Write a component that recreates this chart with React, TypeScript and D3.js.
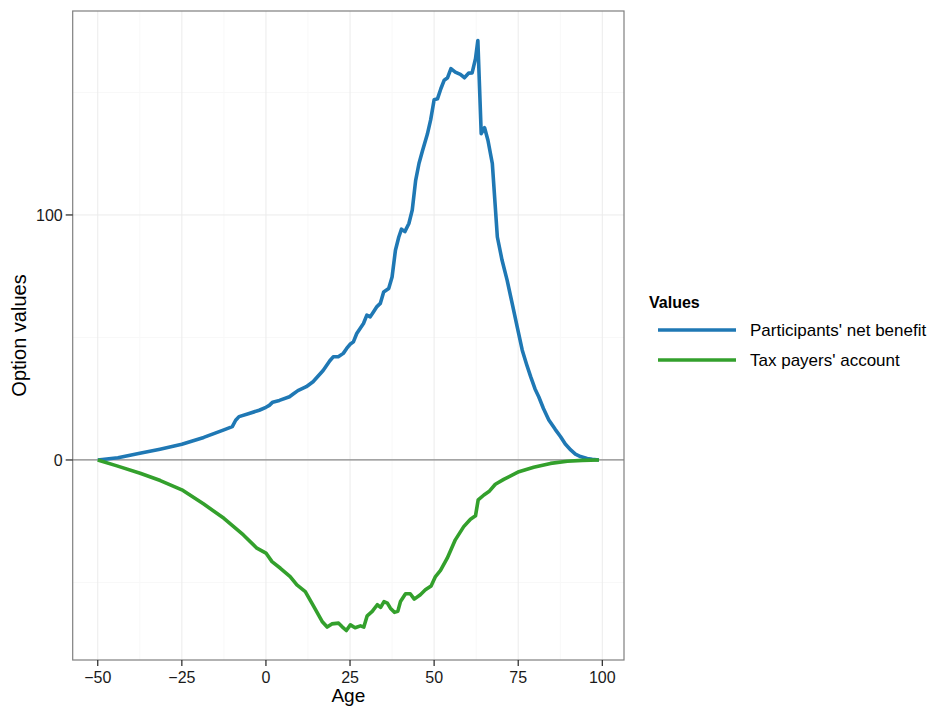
import * as d3 from 'd3';

const ages = {
  benefit: [-50, -44, -37.5, -31.5, -25, -18.5, -12.5, -10, -9, -8, -5, -2, 0, 1, 2, 4, 7, 8, 9.5, 12, 14, 17, 19, 20, 21.5, 23, 24, 25, 26, 27, 29, 30, 31, 32, 33, 34, 35, 36.5, 37.5, 38.5, 39.5, 40.3, 41.3, 42.5, 43.5, 44.5, 45.5, 46.5, 48, 49, 50, 51, 52, 53, 54, 55, 56.3, 57.8, 59, 60.3, 61.3, 62.3, 63, 64, 65, 66, 67.3, 68.8, 70.2, 71.7, 73.2, 74.7, 76.2, 77.5, 78.7, 80, 81.1, 82.5, 84.1, 86, 87.6, 89, 90.6, 92, 93.5, 95.5, 97, 99],
  tax: [-50, -44.3, -37.4, -31.4, -25, -18.6, -12.5, -6.7, -2.7, 0, 1.8, 4.3, 7.2, 9.2, 11.7, 14.2, 16.7, 18.2, 19.6, 21.6, 22.6, 23.9, 25.1, 26.5, 28.1, 29.1, 30.1, 31.6, 33.1, 34.1, 35.1, 36.1, 37, 38.2, 39.2, 40, 41.5, 42.9, 44.1, 45.9, 47.4, 49.1, 50.4, 51.9, 53.9, 56.3, 58.8, 60.8, 62.3, 63.1, 64.8, 66.3, 68.2, 70.7, 75.2, 79.6, 84.6, 89.6, 94, 99],
};

const benefitValues = [0, 0.9, 2.7, 4.4, 6.4, 9.2, 12.3, 13.6, 16.2, 17.7, 19, 20.3, 21.5, 22.3, 23.6, 24.3, 25.8, 26.8, 28.3, 29.9, 31.9, 36.5, 40.5, 42.1, 42.1, 43.5, 45.5, 47.2, 48.2, 51.6, 55.7, 59.1, 58.4, 60.5, 62.6, 63.9, 68.6, 70, 74.7, 85.6, 91, 94.2, 93.2, 96.5, 102, 114, 121, 126, 133, 139, 147, 147.4, 151.5, 155, 156, 159.7, 158.3, 157.4, 156, 157.9, 158, 163.8, 171.2, 133.2, 135.6, 130.5, 121, 91, 81.5, 73.4, 63.9, 54.3, 44.8, 39, 34, 29, 25.8, 21, 16.3, 12.5, 9.5, 6.5, 4.1, 2.4, 1.4, 0.6, 0.3, 0];

const taxValues = [0, -2.4, -5.4, -8.4, -12.2, -17.9, -23.8, -30.6, -36, -38, -41.5, -44.2, -47.6, -51, -53.7, -59.8, -65.9, -68.2, -66.9, -66.6, -68, -69.6, -67.3, -68.5, -67.7, -68.2, -63.6, -61.8, -59.1, -60.2, -57.8, -58.4, -60.5, -62.2, -61.8, -57.8, -54.6, -54.6, -56.8, -55, -53, -51.4, -47.6, -45.1, -40.1, -32.6, -27.2, -24.2, -22.8, -16.3, -14.3, -12.9, -9.9, -7.9, -4.8, -3, -1.4, -0.5, -0.15, 0];

const seriesNames = ["Participants' net benefit", "Tax payers' account"];
const seriesColors = ['#1f78b4', '#33a02c'];
const xTicks = [-50, -25, 0, 25, 50, 75, 100];
const xMinor = [-37.5, -12.5, 12.5, 37.5, 62.5, 87.5];
const yTicks = [0, 100];
const yMinor = [-50, 50, 150];

type Pt = { age: number; v: number };

export default function App() {
  const left = 72.7;
  const right = 624;
  const top = 11;
  const bottom = 660;
  const font = '"Liberation Sans", Arial, Helvetica, sans-serif';

  const series: Pt[][] = [
    ages.benefit.map((a, i) => ({ age: a, v: benefitValues[i] })),
    ages.tax.map((a, i) => ({ age: a, v: taxValues[i] })),
  ];
  const all = series.flat();
  const [x0, x1] = d3.extent(all, (d) => d.age) as [number, number];
  const [y0, y1] = d3.extent(all, (d) => d.v) as [number, number];
  const xPad = (x1 - x0) * 0.05;
  const yPad = (y1 - y0) * 0.05;

  const x = d3.scaleLinear().domain([x0 - xPad, x1 + xPad]).range([left, right]);
  const y = d3.scaleLinear().domain([y0 - yPad, y1 + yPad]).range([bottom, top]);

  const line = d3
    .line<Pt>()
    .x((d) => x(d.age))
    .y((d) => y(d.v));

  return (
    <svg
      width={928}
      height={706}
      style={{ position: 'absolute', left: 0, top: 0, background: '#fff' }}
      fontFamily={font}
    >
      <rect x={left} y={top} width={right - left} height={bottom - top} fill="#fff" />
      {xMinor.map((t) => (
        <line key={`xm${t}`} x1={x(t)} x2={x(t)} y1={top} y2={bottom} stroke="#f8f8f8" strokeWidth={1} />
      ))}
      {yMinor.map((t) => (
        <line key={`ym${t}`} x1={left} x2={right} y1={y(t)} y2={y(t)} stroke="#f8f8f8" strokeWidth={1} />
      ))}
      {xTicks.map((t) => (
        <line key={`xg${t}`} x1={x(t)} x2={x(t)} y1={top} y2={bottom} stroke="#ebebeb" strokeWidth={1} />
      ))}
      {yTicks.map((t) => (
        <line key={`yg${t}`} x1={left} x2={right} y1={y(t)} y2={y(t)} stroke="#ebebeb" strokeWidth={1} />
      ))}
      <line x1={left} x2={right} y1={y(0)} y2={y(0)} stroke="#8a8a8a" strokeWidth={1.2} />

      {series.map((s, i) => (
        <path
          key={seriesNames[i]}
          d={line(s) ?? ''}
          fill="none"
          stroke={seriesColors[i]}
          strokeWidth={3.6}
          strokeLinejoin="round"
        />
      ))}

      <rect x={left} y={top} width={right - left} height={bottom - top} fill="none" stroke="#7f7f7f" strokeWidth={1.2} />

      {xTicks.map((t) => (
        <g key={`xt${t}`} transform={`translate(${x(t)},0)`}>
          <line y1={bottom} y2={bottom + 6} stroke="#222" strokeWidth={1.2} />
          <text y={bottom + 23} textAnchor="middle" fontSize={16} fill="#1a1a1a">
            {t < 0 ? `\u2212${Math.abs(t)}` : t}
          </text>
        </g>
      ))}
      {yTicks.map((t) => (
        <g key={`yt${t}`} transform={`translate(0,${y(t)})`}>
          <line x1={left - 7} x2={left} stroke="#222" strokeWidth={1.2} />
          <text x={left - 10} dy="0.35em" textAnchor="end" fontSize={16} fill="#1a1a1a">
            {t}
          </text>
        </g>
      ))}

      <text x={(left + right) / 2} y={702} textAnchor="middle" fontSize={19} fill="#000">
        Age
      </text>
      <text
        transform={`translate(26,${(top + bottom) / 2}) rotate(-90)`}
        textAnchor="middle"
        fontSize={20}
        fill="#000"
      >
        Option values
      </text>

      <text x={649} y={308} fontSize={16} fontWeight="bold" fill="#000">
        Values
      </text>
      {seriesNames.map((n, i) => (
        <g key={`lg${n}`} transform={`translate(0,${330 + i * 30})`}>
          <line x1={658} x2={736} stroke={seriesColors[i]} strokeWidth={3.6} />
          <text x={750} dy="0.35em" fontSize={17} fill="#000">
            {n}
          </text>
        </g>
      ))}
    </svg>
  );
}
